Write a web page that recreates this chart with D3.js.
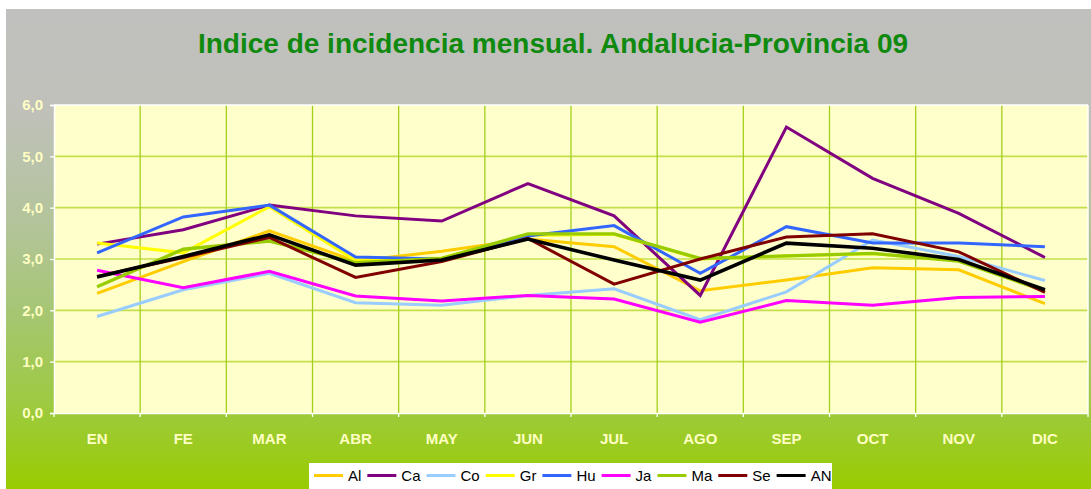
<!DOCTYPE html>
<html><head><meta charset="utf-8">
<script src="https://cdn.jsdelivr.net/npm/d3@7"></script>
<style>html,body{margin:0;padding:0;background:#fff;}svg{display:block;}</style>
</head><body>
<script>
const months = ["EN","FE","MAR","ABR","MAY","JUN","JUL","AGO","SEP","OCT","NOV","DIC"];
const yTicks = [0,1,2,3,4,5,6];
const seriesNames = ["Al","Ca","Co","Gr","Hu","Ja","Ma","Se","AN"];
const seriesColors = ["#ffcc00","#800080","#99ccff","#ffff00","#3366ff","#ff00ff","#99cc00","#800000","#000000"];
const Al = [2.33,2.95,3.55,2.96,3.15,3.39,3.24,2.38,2.59,2.83,2.79,2.13];
const Ca = [3.29,3.57,4.05,3.84,3.74,4.47,3.84,2.29,5.57,4.57,3.89,3.03];
const Co = [1.88,2.40,2.72,2.15,2.10,2.29,2.42,1.82,2.36,3.37,3.05,2.58];
const Gr = [3.31,3.12,4.02,2.97,3.02,3.46,3.48,3.00,3.06,3.10,2.97,2.38];
const Hu = [3.12,3.82,4.05,3.04,3.00,3.45,3.65,2.72,3.63,3.31,3.31,3.24];
const Ja = [2.78,2.44,2.76,2.28,2.18,2.29,2.22,1.77,2.19,2.10,2.25,2.27];
const Ma = [2.46,3.19,3.35,2.93,3.01,3.49,3.49,3.01,3.06,3.11,2.96,2.38];
const Se = [2.66,3.03,3.42,2.64,2.95,3.40,2.51,3.00,3.43,3.49,3.14,2.35];
const AN = [2.65,3.05,3.47,2.88,2.98,3.39,2.98,2.59,3.31,3.21,2.99,2.40];
const seriesValues = [Al,Ca,Co,Gr,Hu,Ja,Ma,Se,AN];

const W = 1091, H = 489;
const svg = d3.select("body").append("svg").attr("width", W).attr("height", H);
const defs = svg.append("defs");
const grad = defs.append("linearGradient").attr("id","bg").attr("x1",0).attr("y1",0).attr("x2",0).attr("y2",1);
[[0,"#c0c0be"],[0.22,"#bfc1b9"],[0.45,"#b3c49a"],[0.62,"#a7c676"],[0.82,"#9dca42"],[1,"#99cc00"]]
  .forEach(s => grad.append("stop").attr("offset", s[0]).attr("stop-color", s[1]));
svg.append("rect").attr("x",6).attr("y",9).attr("width",W-6).attr("height",H-9).attr("fill","url(#bg)");

svg.append("text").attr("x",553).attr("y",53).attr("text-anchor","middle")
  .attr("font-family","'Liberation Sans', Arial, sans-serif").attr("font-weight","bold")
  .attr("font-size","28px").attr("fill","#0f8a0f")
  .text("Indice de incidencia mensual. Andalucia-Provincia 09");

const L = 54, R = 1088, T = 105, B = 413;
const x = d3.scaleBand().domain(months).range([L, R]).padding(0);
const y = d3.scaleLinear().domain([0, 6]).range([B, T]);

svg.append("rect").attr("x",L).attr("y",T).attr("width",R-L).attr("height",B-T).attr("fill","#ffffcc");

// horizontal grid
svg.append("g").selectAll("line").data(yTicks.slice(1,-1)).join("line")
  .attr("x1",L).attr("x2",R).attr("y1",d=>y(d)).attr("y2",d=>y(d))
  .attr("stroke","#c3e04a").attr("stroke-width",1.6);
// vertical grid
svg.append("g").selectAll("line").data(months.slice(1)).join("line")
  .attr("x1",d=>x(d)).attr("x2",d=>x(d)).attr("y1",T).attr("y2",B)
  .attr("stroke","#a3cf1a").attr("stroke-width",1.3);

// border
svg.append("line").attr("x1",L).attr("x2",R).attr("y1",T).attr("y2",T).attr("stroke","#fff").attr("stroke-width",1.5);
svg.append("line").attr("x1",R).attr("x2",R).attr("y1",T).attr("y2",B).attr("stroke","#fff").attr("stroke-width",1.5);

// y axis
const yAxis = d3.axisLeft(y).tickValues(yTicks).tickSize(4).tickPadding(7).tickFormat(d => d3.format(".1f")(d).replace(".", ","));
const gy = svg.append("g").attr("transform",`translate(${L},0)`).call(yAxis);
gy.select(".domain").attr("stroke","#fff").attr("stroke-width",1.5);
gy.selectAll(".tick line").attr("stroke","#fff").attr("stroke-width",1.3);
gy.selectAll(".tick text").attr("fill","#ffffc4").attr("font-family","'Liberation Sans', Arial, sans-serif")
  .attr("font-weight","bold").attr("font-size","15px");

// x axis
const xAxis = d3.axisBottom(x).tickSize(0).tickPadding(20);
const gx = svg.append("g").attr("transform",`translate(0,${B})`).call(xAxis);
gx.select(".domain").attr("stroke","#fff").attr("stroke-width",1.5);
gx.selectAll(".tick text").attr("fill","#ffffc4").attr("font-family","'Liberation Sans', Arial, sans-serif")
  .attr("font-weight","bold").attr("font-size","15px");
gx.append("g").selectAll("line").data(d3.range(months.length + 1)).join("line")
  .attr("x1",i => L + i * x.bandwidth()).attr("x2",i => L + i * x.bandwidth())
  .attr("y1",0).attr("y2",4).attr("stroke","#fff").attr("stroke-width",1.3);

// lines
const line = d3.line().x((d,i) => x(months[i]) + x.bandwidth()/2).y(d => y(d));
svg.append("g").selectAll("path").data(seriesValues).join("path")
  .attr("d", d => line(d)).attr("fill","none")
  .attr("stroke",(d,i) => seriesColors[i])
  .attr("stroke-width",(d,i) => seriesNames[i] === "AN" ? 3.6 : (seriesNames[i] === "Ma" ? 3.4 : 3))
  .attr("stroke-linejoin","miter");

// legend
const lg = svg.append("g");
lg.append("rect").attr("x",309).attr("y",463).attr("width",523).attr("height",30).attr("fill","#fff");
let cx = 314;
seriesNames.forEach((n,i) => {
  lg.append("line").attr("x1",cx).attr("x2",cx+29).attr("y1",475.5).attr("y2",475.5)
    .attr("stroke",seriesColors[i]).attr("stroke-width",3);
  const t = lg.append("text").attr("x",cx+34).attr("y",481)
    .attr("font-family","'Liberation Sans', Arial, sans-serif").attr("font-size","15px").attr("fill","#000").text(n);
  cx += 34 + t.node().getComputedTextLength() + 6;
});
</script>
</body></html>
